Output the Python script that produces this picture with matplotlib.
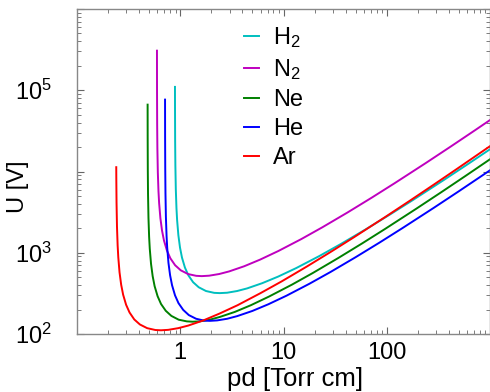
import numpy as np
import matplotlib
matplotlib.use("Agg")
import matplotlib.pyplot as plt

plt.rcParams['font.family'] = ['Liberation Sans', 'DejaVu Sans']
plt.rcParams['mathtext.fontset'] = 'custom'
plt.rcParams['mathtext.rm'] = 'Liberation Sans'
plt.rcParams['mathtext.it'] = 'Liberation Sans'
plt.rcParams['mathtext.default'] = 'regular'

# Paschen curves: pd [Torr cm] -> U [V]
pd_h2 = [0.88895, 0.8898, 0.8924, 0.8969, 0.9058, 0.9191, 0.9324, 0.9590, 0.9946, 1.039,
         1.110, 1.199, 1.332, 1.510, 1.776, 2.131, 2.415, 2.842, 3.552, 4.44, 6.216, 8.88,
         13.32, 22.2, 35.52, 62.16, 106.6, 177.6, 355.2, 621.6, 1000]
u_h2 = [110000, 58780, 23620, 11900, 6036, 3527, 2522, 1644, 1158, 873,
        657, 527, 434, 376, 338, 321, 318.6, 322, 338, 364, 422, 509,
        649, 910, 1271, 1931, 2938, 4424, 7825, 12523, 18781]

pd_n2 = [0.59497, 0.5958, 0.5976, 0.6005, 0.6065, 0.6154, 0.6243, 0.6422, 0.6660, 0.6957,
         0.7433, 0.8027, 0.8919, 1.011, 1.189, 1.427, 1.617, 1.903, 2.378, 2.973, 4.162,
         5.946, 8.919, 14.87, 23.78, 41.62, 71.35, 118.9, 237.8, 416.2, 713.5, 1000]
u_n2 = [307000, 95130, 38220, 19250, 9770, 5708, 4082, 2662, 1875, 1414,
        1063, 853, 702, 608, 547, 520, 515.6, 522, 547, 589, 682,
        824, 1051, 1473, 2057, 3126, 4755, 7161, 12665, 20270, 32107, 42958]

pd_ne = [0.48298, 0.4836, 0.4850, 0.4874, 0.4923, 0.4995, 0.5067, 0.5212, 0.5405, 0.5646,
         0.6033, 0.6515, 0.7239, 0.8204, 0.9652, 1.158, 1.313, 1.544, 1.930, 2.413, 3.378,
         4.826, 7.239, 12.07, 19.30, 33.78, 57.91, 96.52, 193.0, 337.8, 579.1, 1000]
u_ne = [66500, 26140, 10500, 5290, 2684, 1568, 1122, 731, 515, 388,
        292, 234, 193, 167, 150, 143, 141.7, 143, 150, 162, 187,
        226, 289, 405, 565, 859, 1306, 1967, 3480, 5569, 8821, 14142]

pd_he = [0.7125, 0.7134, 0.7156, 0.7191, 0.7262, 0.7369, 0.7476, 0.7690, 0.7974, 0.8330,
         0.8900, 0.9612, 1.068, 1.210, 1.424, 1.709, 1.937, 2.278, 2.848, 3.56, 4.984,
         7.12, 10.68, 17.8, 28.48, 49.84, 85.44, 142.4, 284.8, 498.4, 1000]
u_he = [76700, 26780, 10760, 5420, 2750, 1607, 1149, 749, 528, 398,
        299, 240, 198, 171, 154, 146, 145.2, 147, 154, 166, 192,
        232, 296, 415, 579, 880, 1338, 2016, 3565, 5706, 10345]

pd_ar = [0.2400, 0.2403, 0.2415, 0.2439, 0.2475, 0.2511, 0.2582, 0.2678, 0.2797, 0.2989,
         0.3228, 0.3587, 0.4065, 0.4782, 0.5738, 0.6504, 0.7651, 0.9564, 1.196, 1.674,
         2.391, 3.587, 5.978, 9.564, 16.74, 28.69, 47.82, 95.64, 167.4, 286.9, 478.2, 1000]
u_ar = [11300, 8239, 4150, 2106, 1230, 880, 574, 404, 305, 229,
        184, 151, 131, 118, 112, 111.1, 112.5, 118, 127, 147,
        178, 226, 318, 443, 674, 1025, 1544, 2730, 4369, 6921, 10760, 20508]

labels = ['H$_2$', 'N$_2$', 'Ne', 'He', 'Ar']
colors = ['c', 'm', 'g', 'b', 'r']

fig = plt.figure(figsize=(4.9, 3.92), dpi=100)
ax = fig.add_axes([77/490, 58/392, 413/490, 325/392])

for x, y, lab, col in zip([pd_h2, pd_n2, pd_ne, pd_he, pd_ar],
                          [u_h2, u_n2, u_ne, u_he, u_ar], labels, colors):
    ax.plot(x, y, color=col, lw=1.4, label=lab)

ax.set_xscale('log')
ax.set_yscale('log')
ax.set_xlim(0.1, 1000)
ax.set_ylim(100, 1e6)

ax.set_xticks([1, 10, 100])
ax.set_xticklabels(['1', '10', '100'])
ax.set_yticks([1e2, 1e3, 1e4, 1e5, 1e6])
ax.set_yticklabels(['$10^2$', '$10^3$', '', '$10^5$', ''])

for s in ax.spines.values():
    s.set_color('#888888')
    s.set_linewidth(1.0)
ax.tick_params(which='both', direction='in', top=True, right=True, color='#666666')
ax.tick_params(which='major', length=5, width=0.8, labelsize=17)
ax.tick_params(which='minor', length=3, width=0.6)
ax.tick_params(axis='y', which='major', pad=18)
ax.tick_params(axis='x', which='major', pad=6)

ax.set_xlabel('pd [Torr cm]', fontsize=18.5, labelpad=2)
ax.xaxis.label.set_x(0.527)
ax.set_ylabel('U [V]', fontsize=17, va='center')
ax.yaxis.set_label_coords(-0.143, 0.454)

ax.legend(loc='upper left', bbox_to_anchor=(0.381, 0.98), frameon=False, fontsize=17,
          handlelength=0.65, handletextpad=0.6, labelspacing=0.3, borderaxespad=0)

fig.savefig('out.png', dpi=100)
